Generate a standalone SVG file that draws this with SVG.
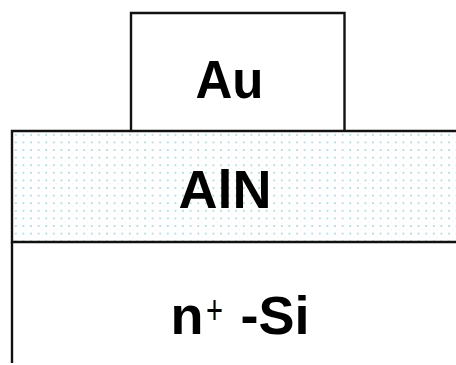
<svg xmlns="http://www.w3.org/2000/svg" width="456" height="365" viewBox="0 0 456 365">
  <style>
    .edge { fill: none; stroke: #111; stroke-width: 2.4; }
    .lbl { font-family: "Liberation Sans", Arial, sans-serif; font-weight: bold; font-size: 54px; fill: #000; }
    .sup { font-family: "Liberation Sans", Arial, sans-serif; font-weight: normal; font-size: 40px; fill: #000; }
  </style>
  <defs>
    <pattern id="dots" x="12" y="131" width="7.6" height="7.6" patternUnits="userSpaceOnUse">
      <rect x="3" y="3" width="1.7" height="1.7" fill="#a6d8da"/>
      <rect x="6.8" y="6.8" width="1.2" height="1.2" fill="#d4ecec"/>
    </pattern>
  </defs>
  <rect width="456" height="365" fill="#fff"/>
  <g id="si">
    <path class="edge" d="M12 242 V363"/>
    <text class="lbl" x="170.5" y="334">n</text>
    <text class="sup" x="206" y="323.5" textLength="17" lengthAdjust="spacingAndGlyphs">+</text>
    <text class="lbl" x="240.5" y="334">-Si</text>
  </g>
  <g id="aln">
    <rect x="12" y="131" width="450" height="111" fill="url(#dots)"/>
    <path class="edge" d="M460 131 H12 V242 H460"/>
    <text class="lbl" x="225" y="207.5" text-anchor="middle">AlN</text>
  </g>
  <g id="au">
    <path class="edge" d="M131 131 V13 H344.5 V131"/>
    <text class="lbl" x="229.5" y="98.3" text-anchor="middle" textLength="68" lengthAdjust="spacingAndGlyphs">Au</text>
  </g>
  <g id="connectors"/>
</svg>
